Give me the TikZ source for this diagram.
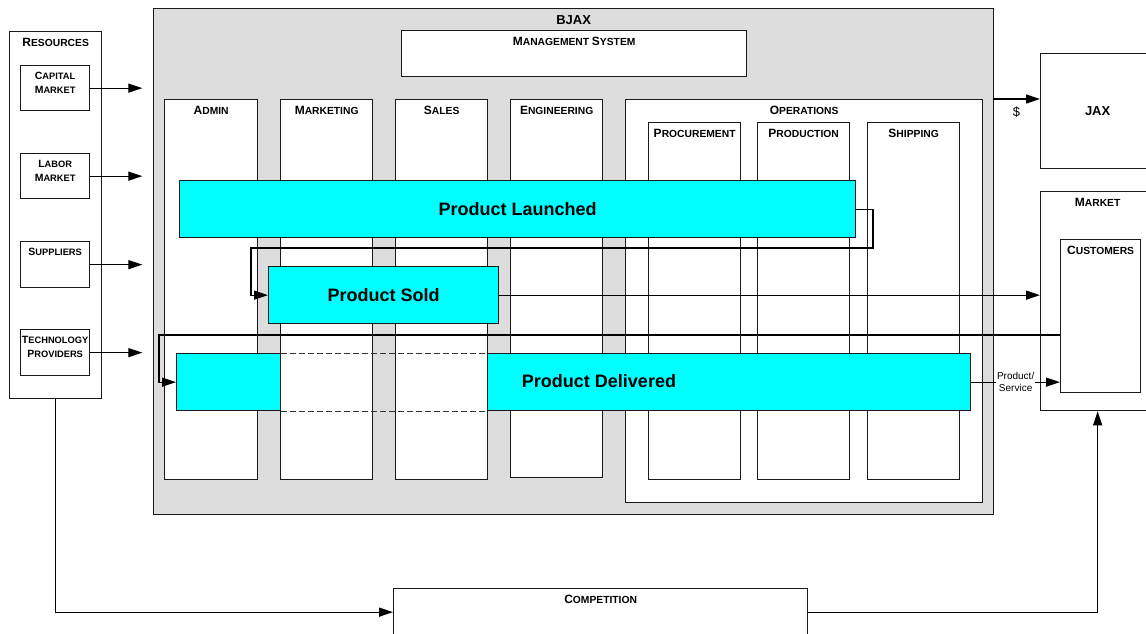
\documentclass[tikz,border=0pt]{standalone}
\usepackage{fontspec}
\setmainfont{Liberation Sans}
\usetikzlibrary{arrows.meta}
\definecolor{aqua}{RGB}{0,255,255}
\definecolor{panel}{RGB}{221,221,221}
\newcommand\smcap[2]{{\fontsize{12}{14}\selectfont #1}{\fontsize{10.3}{14}\selectfont #2}}
\newcommand\smcapsm[2]{{\fontsize{10.5}{14}\selectfont #1}{\fontsize{9.3}{14}\selectfont #2}}

\begin{document}
\begin{tikzpicture}[x=1pt, y=-1pt,
box/.style={draw=black!90, line width=1.3pt, fill=white, anchor=north west, inner sep=0pt},
title/.style={anchor=north, inner sep=0pt, yshift=-7pt, align=center, font=\bfseries\fontsize{10}{14}\selectfont},
event/.style={box, fill=aqua, font=\bfseries\fontsize{18}{20}\selectfont},
arr/.style={line width=1.3pt, -{Triangle[length=14pt,width=9pt]}},
]
\clip (0,0) rectangle (1146,634);

\node[box, minimum width=92, minimum height=367] (res) at (9,31)   {};
\node[box, minimum width=69, minimum height=45]  (cap) at (20,65)  {};
\node[box, minimum width=69, minimum height=45]  (lab) at (20,153) {};
\node[box, minimum width=69, minimum height=46]  (sup) at (20,241) {};
\node[box, minimum width=69, minimum height=46]  (tec) at (20,329) {};
\node[title] (resT) at (res.north) {\smcap{R}{ESOURCES}};
\node[title] (capT) at (cap.north) {\smcapsm{C}{APITAL}\\\smcapsm{M}{ARKET}};
\node[title] (labT) at (lab.north) {\smcapsm{L}{ABOR}\\\smcapsm{M}{ARKET}};
\node[title] (supT) at (sup.north) {\smcapsm{S}{UPPLIERS}};
\node[title] (tecT) at (tec.north) {\smcapsm{T}{ECHNOLOGY}\\\smcapsm{P}{ROVIDERS}};

\node[box, fill=panel, minimum width=840, minimum height=506] (bjax) at (153,8) {};
\node[title, yshift=0pt, font=\bfseries\fontsize{13}{15}\selectfont] (bjaxT) at (bjax.north) {BJAX};
\node[box, minimum width=345, minimum height=46]  (mgmt)  at (401,30)  {};
\node[box, minimum width=93,  minimum height=380] (admin) at (164,99)  {};
\node[box, minimum width=92,  minimum height=380] (mkt)   at (280,99)  {};
\node[box, minimum width=92,  minimum height=380] (sales) at (395,99)  {};
\node[box, minimum width=92,  minimum height=378] (eng)   at (510,99)  {};
\node[box, minimum width=357, minimum height=403] (ops)   at (625,99)  {};
\node[box, minimum width=92,  minimum height=357] (proc)  at (648,122) {};
\node[box, minimum width=92,  minimum height=357] (prod)  at (757,122) {};
\node[box, minimum width=92,  minimum height=357] (ship)  at (867,122) {};
\node[title] (mgmtT)  at (mgmt.north)  {\smcap{M}{ANAGEMENT} \smcap{S}{YSTEM}};
\node[title] (adminT) at (admin.north) {\smcap{A}{DMIN}};
\node[title] (mktT)   at (mkt.north)   {\smcap{M}{ARKETING}};
\node[title] (salesT) at (sales.north) {\smcap{S}{ALES}};
\node[title] (engT)   at (eng.north)   {\smcap{E}{NGINEERING}};
\node[title] (opsT)   at (ops.north)   {\smcap{O}{PERATIONS}};
\node[title] (procT)  at (proc.north)  {\smcap{P}{ROCUREMENT}};
\node[title] (prodT)  at (prod.north)  {\smcap{P}{RODUCTION}};
\node[title] (shipT)  at (ship.north)  {\smcap{S}{HIPPING}};

\node[box, minimum width=114, minimum height=115, font=\bfseries\fontsize{13}{15}\selectfont] (jax) at (1040,53) {JAX};
\node[box, minimum width=114, minimum height=219] (market) at (1040,191) {};
\node[box, minimum width=80,  minimum height=153] (cust)   at (1060,239) {};
\node[box, minimum width=414, minimum height=47]  (comp)   at (393,588)  {};
\node[title] (marketT) at (market.north) {\smcap{M}{ARKET}};
\node[title] (custT)   at (cust.north)   {\smcap{C}{USTOMERS}};
\node[title] (compT)   at (comp.north)   {\smcap{C}{OMPETITION}};

% events
\node[event, minimum width=676, minimum height=57] (launch) at (179,180) {Product Launched};
\node[event, minimum width=230, minimum height=57] (sold)   at (268,266) {Product Sold};
\node[event, minimum width=104, minimum height=57] (delA)   at (176,353) {};
\node[event, minimum width=483, minimum height=57] (delB)   at (487,353) {};
\node[font=\bfseries\fontsize{18}{20}\selectfont] (delT) at (599,381) {Product Delivered};
\draw[black!80, line width=1pt, dash pattern=on 6pt off 3pt] (delA.north east) -- (delB.north west);
\draw[black!80, line width=1pt, dash pattern=on 6pt off 3pt] (delA.south east) -- (delB.south west);

\draw[arr] (cap.east) -- ++(52,0);
\draw[arr] (lab.east) -- ++(52,0);
\draw[arr] (sup.east) -- ++(52,0);
\draw[arr] (tec.east) -- ++(52,0);

\coordinate (turnA) at (873,248);
\coordinate (turnB) at (251,248);
\draw[arr] (launch.east) -| (turnA) -- (turnB) |- (sold.west);
\draw[arr] (sold.east) -- (sold.east -| market.west);

\coordinate (back) at (159,335);
\draw[arr] (back -| cust.west) -- (back) |- (delA.west);
\draw[arr] (delB.east) -- (delB.east -| cust.west)
  node[midway, fill=white, inner sep=1pt, align=center, font=\fontsize{10}{12}\selectfont] {Product/\\Service};

\coordinate (pay) at (993,99);
\draw[arr] (pay) -- (pay -| jax.west) node[midway, below=4pt, font=\fontsize{13}{15}\selectfont] {\$};

\draw[arr] (res.south) |- (comp.west);
\draw[arr] (comp.east) -| (market.south);

\end{tikzpicture}
\end{document}
